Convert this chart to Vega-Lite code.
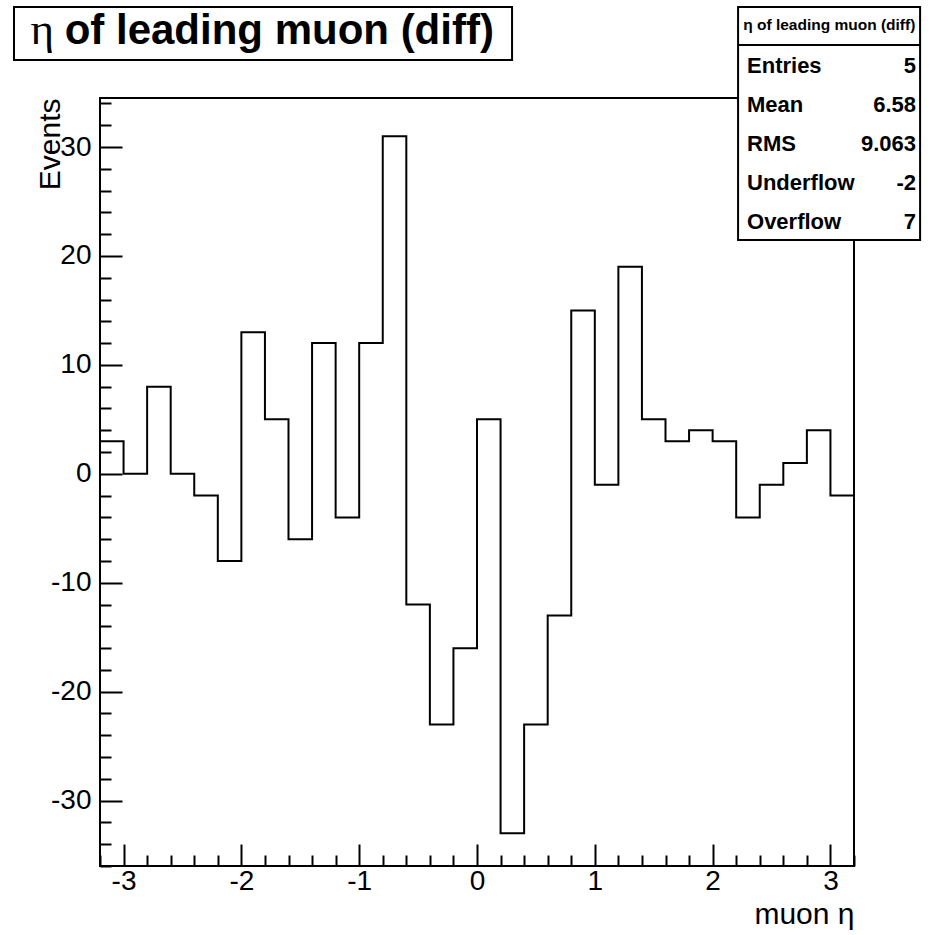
{
  "$schema": "https://vega.github.io/schema/vega-lite/v6.json",
  "width": 754,
  "height": 768,
  "autosize": {"type": "none"},
  "padding": {"left": 100, "top": 98, "right": 87, "bottom": 69},
  "background": "white",
  "config": {
    "view": {"stroke": "black", "strokeWidth": 2},
    "font": "Liberation Sans"
  },
  "datasets": {
    "hist": [
      {"eta": -3.2, "events": 3},
      {"eta": -3.0, "events": 0},
      {"eta": -2.8, "events": 8},
      {"eta": -2.6, "events": 0},
      {"eta": -2.4, "events": -2},
      {"eta": -2.2, "events": -8},
      {"eta": -2.0, "events": 13},
      {"eta": -1.8, "events": 5},
      {"eta": -1.6, "events": -6},
      {"eta": -1.4, "events": 12},
      {"eta": -1.2, "events": -4},
      {"eta": -1.0, "events": 12},
      {"eta": -0.8, "events": 31},
      {"eta": -0.6, "events": -12},
      {"eta": -0.4, "events": -23},
      {"eta": -0.2, "events": -16},
      {"eta": 0.0, "events": 5},
      {"eta": 0.2, "events": -33},
      {"eta": 0.4, "events": -23},
      {"eta": 0.6, "events": -13},
      {"eta": 0.8, "events": 15},
      {"eta": 1.0, "events": -1},
      {"eta": 1.2, "events": 19},
      {"eta": 1.4, "events": 5},
      {"eta": 1.6, "events": 3},
      {"eta": 1.8, "events": 4},
      {"eta": 2.0, "events": 3},
      {"eta": 2.2, "events": -4},
      {"eta": 2.4, "events": -1},
      {"eta": 2.6, "events": 1},
      {"eta": 2.8, "events": 4},
      {"eta": 3.0, "events": -2},
      {"eta": 3.2, "events": -2}
    ],
    "stats": [
      {"name": "Entries", "value": "5"},
      {"name": "Mean", "value": "6.58"},
      {"name": "RMS", "value": "9.063"},
      {"name": "Underflow", "value": "-2"},
      {"name": "Overflow", "value": "7"}
    ],
    "one": [{}]
  },
  "layer": [
    {
      "layer": [
        {
          "data": {"name": "hist"},
          "mark": {"type": "line", "interpolate": "step-after", "color": "black", "strokeWidth": 2},
          "encoding": {
            "x": {
              "field": "eta",
              "type": "quantitative",
              "scale": {"domain": [-3.2, 3.2], "nice": false, "zero": false},
              "axis": {
                "title": "muon η",
                "titleFont": "Liberation Sans",
                "titleFontSize": 30,
                "titleFontWeight": "normal",
                "titleColor": "black",
                "titleAnchor": "end",
                "titleAlign": "right",
                "titleBaseline": "alphabetic",
                "titleX": 754,
                "titleY": 57,
                "domain": false,
                "grid": false,
                "tickCount": 200,
                "values": [-3.2, -3, -2.8, -2.6, -2.4, -2.2, -2, -1.8, -1.6, -1.4, -1.2, -1, -0.8, -0.6, -0.4, -0.2, 0, 0.2, 0.4, 0.6, 0.8, 1, 1.2, 1.4, 1.6, 1.8, 2, 2.2, 2.4, 2.6, 2.8, 3, 3.2],
                "tickColor": "black",
                "tickWidth": 2,
                "tickSize": {"condition": {"test": "abs(datum.value - round(datum.value)) < 0.001", "value": -22}, "value": -11},
                "labelExpr": "abs(datum.value - round(datum.value)) < 0.001 ? '' + round(datum.value) : ''",
                "labelFont": "Liberation Sans",
                "labelFontSize": 28,
                "labelColor": "black",
                "labelPadding": 23,
                "labelOverlap": false,
                "labelFlush": false
              }
            },
            "y": {
              "field": "events",
              "type": "quantitative",
              "scale": {"domain": [-36.0, 34.5], "nice": false, "zero": false},
              "axis": {
                "title": "Events",
                "titleFont": "Liberation Sans",
                "titleFontSize": 30,
                "titleFontWeight": "normal",
                "titleColor": "black",
                "titleAngle": -90,
                "titleAlign": "right",
                "titleBaseline": "alphabetic",
                "titleX": -41,
                "titleY": 0,
                "domain": false,
                "grid": false,
                "tickCount": 200,
                "values": [-36, -34, -32, -30, -28, -26, -24, -22, -20, -18, -16, -14, -12, -10, -8, -6, -4, -2, 0, 2, 4, 6, 8, 10, 12, 14, 16, 18, 20, 22, 24, 26, 28, 30, 32, 34],
                "tickColor": "black",
                "tickWidth": 2,
                "tickSize": {"condition": {"test": "datum.value % 10 === 0", "value": -22}, "value": -11},
                "labelExpr": "datum.value % 10 === 0 ? '' + datum.value : ''",
                "labelFont": "Liberation Sans",
                "labelFontSize": 28,
                "labelColor": "black",
                "labelPadding": 31,
                "labelOverlap": false,
                "labelFlush": false
              }
            }
          }
        },
        {
          "data": {"name": "one"},
          "mark": {"type": "rect", "fill": "white", "stroke": "black", "strokeWidth": 2},
          "encoding": {
            "x": {"datum": -3.93},
            "x2": {"datum": 0.2975},
            "y": {"datum": 42.853},
            "y2": {"datum": 37.988}
          }
        },
        {
          "data": {"name": "one"},
          "mark": {"type": "text", "text": "η", "font": "Liberation Serif", "fontSize": 45, "align": "left", "baseline": "alphabetic", "color": "black"},
          "encoding": {
            "x": {"datum": -3.79},
            "y": {"datum": 39.457}
          }
        },
        {
          "data": {"name": "one"},
          "mark": {"type": "text", "text": "of leading muon (diff)", "font": "Liberation Sans", "fontWeight": "bold", "fontSize": 42, "align": "left", "baseline": "alphabetic", "color": "black"},
          "encoding": {
            "x": {"datum": -3.5},
            "y": {"datum": 39.457}
          }
        },
        {
          "data": {"name": "one"},
          "mark": {"type": "rect", "fill": "white", "stroke": "black", "strokeWidth": 2},
          "encoding": {
            "x": {"datum": 2.216},
            "x2": {"datum": 3.761},
            "y": {"datum": 42.853},
            "y2": {"datum": 21.465}
          }
        },
        {
          "data": {"name": "one"},
          "mark": {"type": "rule", "color": "black", "strokeWidth": 2},
          "encoding": {
            "x": {"datum": 2.216},
            "x2": {"datum": 3.761},
            "y": {"datum": 39.365}
          }
        },
        {
          "data": {"name": "one"},
          "mark": {"type": "text", "text": "η of leading muon (diff)", "font": "Liberation Sans", "fontWeight": "bold", "fontSize": 15.5, "align": "center", "baseline": "alphabetic", "color": "black"},
          "encoding": {
            "x": {"datum": 2.99},
            "y": {"datum": 40.742}
          }
        }
      ]
    },
    {
      "data": {"name": "stats"},
      "mark": {"type": "text", "font": "Liberation Sans", "fontWeight": "bold", "fontSize": 22, "align": "left", "baseline": "alphabetic", "color": "black"},
      "encoding": {
        "x": {"datum": 2.292},
        "y": {"field": "name", "type": "nominal", "scale": {"type": "point", "domain": ["Entries", "Mean", "RMS", "Underflow", "Overflow"], "range": [-25, 131], "padding": 0}, "axis": null},
        "text": {"field": "name"}
      }
    },
    {
      "data": {"name": "stats"},
      "mark": {"type": "text", "font": "Liberation Sans", "fontWeight": "bold", "fontSize": 22, "align": "right", "baseline": "alphabetic", "color": "black"},
      "encoding": {
        "x": {"datum": 3.727},
        "y": {"field": "name", "type": "nominal", "scale": {"type": "point", "domain": ["Entries", "Mean", "RMS", "Underflow", "Overflow"], "range": [-25, 131], "padding": 0}, "axis": null},
        "text": {"field": "value"}
      }
    }
  ],
  "resolve": {"scale": {"y": "independent"}}
}
